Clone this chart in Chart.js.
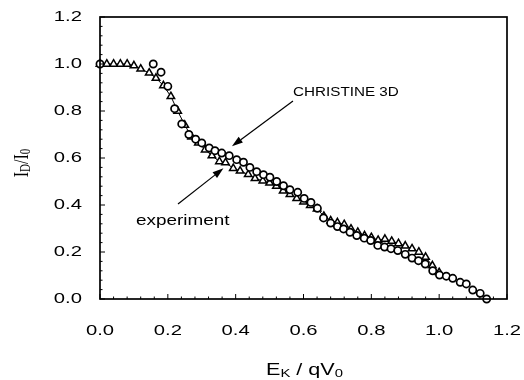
<!DOCTYPE html>
<html><head><meta charset="utf-8">
<script src="https://cdn.jsdelivr.net/npm/chart.js@4/dist/chart.umd.min.js"></script>
<style>html,body{margin:0;padding:0;background:#fff}#c{display:block}</style>
</head><body>
<canvas id="c" width="524" height="380"></canvas>
<script>
// CHRISTINE 3D simulation (circles)
const simX = [0.0,0.157,0.18,0.20,0.22,0.241,0.262,0.282,0.30,0.322,0.339,0.359,0.381,0.403,0.423,0.442,0.462,0.482,0.501,0.521,0.541,0.56,0.583,0.602,0.622,0.641,0.659,0.68,0.70,0.718,0.737,0.757,0.779,0.798,0.819,0.839,0.858,0.878,0.90,0.92,0.939,0.959,0.981,1.001,1.021,1.04,1.062,1.08,1.099,1.121,1.14];
const simY = [1.0,1.0,0.965,0.905,0.81,0.745,0.70,0.68,0.664,0.643,0.631,0.621,0.61,0.593,0.582,0.56,0.542,0.529,0.518,0.50,0.482,0.465,0.454,0.428,0.411,0.386,0.345,0.323,0.308,0.298,0.284,0.27,0.259,0.249,0.228,0.221,0.214,0.206,0.19,0.174,0.163,0.149,0.12,0.102,0.097,0.088,0.071,0.064,0.038,0.024,0.0];
// experiment (triangles)
const expX = [0.0,0.02,0.04,0.06,0.08,0.10,0.12,0.145,0.165,0.187,0.209,0.229,0.25,0.27,0.29,0.31,0.33,0.352,0.37,0.393,0.413,0.437,0.457,0.48,0.50,0.52,0.54,0.56,0.58,0.60,0.62,0.64,0.66,0.68,0.70,0.72,0.74,0.76,0.78,0.80,0.82,0.84,0.86,0.88,0.90,0.92,0.94,0.96,0.98,1.0];
const expY = [1.0,1.0,1.0,1.0,1.0,0.993,0.979,0.962,0.94,0.908,0.862,0.80,0.74,0.69,0.665,0.635,0.61,0.585,0.58,0.556,0.545,0.53,0.513,0.503,0.494,0.48,0.46,0.445,0.428,0.413,0.398,0.384,0.352,0.333,0.325,0.317,0.298,0.284,0.27,0.262,0.25,0.255,0.246,0.236,0.226,0.214,0.2,0.178,0.142,0.113];
const xTicks = [0.0,0.2,0.4,0.6,0.8,1.0,1.2];
const yTicks = [0.0,0.2,0.4,0.6,0.8,1.0,1.2];
const labelSim = "CHRISTINE 3D";
const labelExp = "experiment";

const toPts = (xs, ys) => xs.map((x, i) => ({x: x, y: ys[i]}));

const sansFont = "'Liberation Sans', Arial, sans-serif";
let STRETCH = 1.35;   // glyphs in the figure are horizontally wide
const origFill = CanvasRenderingContext2D.prototype.fillText;

const decor = {
  id: 'decor',
  beforeDraw(chart) {
    const ctx = chart.ctx;
    if (!ctx.__wrapped) {
      ctx.fillText = function (t, x, y) {
        this.save();
        this.translate(x, y);
        this.scale(STRETCH, 1);
        origFill.call(this, t, 0, 0);
        this.restore();
      };
      ctx.__wrapped = true;
    }
  },
  afterDraw(chart) {
    const ctx = chart.ctx;
    const xs = chart.scales.x, ys = chart.scales.y;
    const a = chart.chartArea;
    ctx.save();
    ctx.strokeStyle = '#000';
    // inward ticks
    ctx.lineWidth = 1;
    for (let i = 0; i <= 30; i++) {
      const v = i * 0.04;
      const major = i % 5 === 0;
      const len = major ? 5 : 2.5;
      const px = xs.getPixelForValue(v);
      ctx.beginPath(); ctx.moveTo(px, a.bottom); ctx.lineTo(px, a.bottom - len); ctx.stroke();
      const py = ys.getPixelForValue(v);
      ctx.beginPath(); ctx.moveTo(a.left, py); ctx.lineTo(a.left + len, py); ctx.stroke();
    }
    // frame
    ctx.lineWidth = 1.7;
    ctx.strokeRect(a.left, a.top, a.right - a.left, a.bottom - a.top);

    // arrows
    function arrow(x0, y0, x1, y1) {
      const p0x = xs.getPixelForValue(x0), p0y = ys.getPixelForValue(y0);
      const p1x = xs.getPixelForValue(x1), p1y = ys.getPixelForValue(y1);
      const ang = Math.atan2(p1y - p0y, p1x - p0x);
      const L = 11, W = 3.6;
      const bx = p1x - L * Math.cos(ang), by = p1y - L * Math.sin(ang);
      ctx.lineWidth = 1.2;
      ctx.beginPath(); ctx.moveTo(p0x, p0y); ctx.lineTo(bx, by); ctx.stroke();
      ctx.beginPath();
      ctx.moveTo(p1x, p1y);
      ctx.lineTo(bx + W * Math.sin(ang), by - W * Math.cos(ang));
      ctx.lineTo(bx - W * Math.sin(ang), by + W * Math.cos(ang));
      ctx.closePath(); ctx.fillStyle = '#000'; ctx.fill();
    }
    arrow(0.569, 0.843, 0.389, 0.650);
    arrow(0.230, 0.404, 0.364, 0.556);

    // annotation texts
    ctx.fillStyle = '#000';
    ctx.textAlign = 'left';
    ctx.textBaseline = 'alphabetic';
    ctx.font = '12px ' + sansFont;
    STRETCH = 1.27;
    ctx.fillText(labelSim, xs.getPixelForValue(0.569), ys.getPixelForValue(0.865));
    STRETCH = 1.35;
    ctx.font = '14px ' + sansFont;
    ctx.fillText(labelExp, xs.getPixelForValue(0.106), ys.getPixelForValue(0.315));

    function drawRuns(runs, cx, cy, sx) {
      let w = 0;
      runs.forEach(r => { ctx.font = r.f; w += ctx.measureText(r.t).width * sx; });
      let x = cx - w / 2;
      runs.forEach(r => {
        ctx.font = r.f;
        ctx.fillText(r.t, x, cy + (r.dy || 0));
        x += ctx.measureText(r.t).width * sx;
      });
    }
    // x axis title: E_K / qV_0
    ctx.textBaseline = 'alphabetic';
    drawRuns([
      {t: 'E', f: '16px ' + sansFont},
      {t: 'K', f: '11px ' + sansFont, dy: 2},
      {t: ' / qV', f: '16px ' + sansFont},
      {t: '0', f: '11px ' + sansFont, dy: 2}
    ], (a.left + a.right) / 2 + 1, 375, STRETCH);

    // y axis title: I_D/I_0 (serif, rotated; page-horizontal stretch)
    ctx.save();
    ctx.translate(21, 163);
    ctx.scale(1.3, 1);
    ctx.rotate(-Math.PI / 2);
    const serif = "'Liberation Serif', 'Times New Roman', serif";
    const keep = STRETCH; STRETCH = 1;
    drawRuns([
      {t: 'I', f: '16px ' + serif},
      {t: 'D', f: '11px ' + serif, dy: 2},
      {t: '/I', f: '16px ' + serif},
      {t: '0', f: '11px ' + serif, dy: 2}
    ], 0, 5, 1);
    STRETCH = keep;
    ctx.restore();
    ctx.restore();
  }
};

new Chart(document.getElementById('c'), {
  type: 'scatter',
  data: {
    datasets: [
      {
        label: labelSim,
        data: toPts(simX, simY),
        pointStyle: 'circle',
        pointRadius: 3.6,
        pointBackgroundColor: '#fff',
        pointBorderColor: '#000',
        pointBorderWidth: 1.7,
        showLine: false,
        clip: false
      },
      {
        label: labelExp,
        data: toPts(expX, expY),
        pointStyle: 'triangle',
        pointRadius: 4.3,
        pointBackgroundColor: '#fff',
        pointBorderColor: '#000',
        pointBorderWidth: 1.5,
        showLine: true,
        borderColor: '#000',
        borderWidth: 1,
        tension: 0,
        clip: false
      }
    ]
  },
  options: {
    responsive: false,
    animation: false,
    devicePixelRatio: 1,
    layout: {padding: {left: 0, right: 17, top: 17, bottom: 0}},
    plugins: {legend: {display: false}, tooltip: {enabled: false}},
    scales: {
      x: {
        type: 'linear', min: 0, max: 1.2,
        afterFit(s) { s.height = 81; s.paddingLeft = 0; s.paddingRight = 0; },
        afterBuildTicks(s) { s.ticks = xTicks.map(v => ({value: v})); },
        grid: {display: false, drawTicks: false},
        border: {display: false},
        ticks: {
          padding: 23, color: '#000',
          font: {family: sansFont, size: 15},
          callback: v => v.toFixed(1)
        }
      },
      y: {
        type: 'linear', min: 0, max: 1.2,
        afterFit(s) { s.width = 100; s.paddingTop = 0; s.paddingBottom = 0; },
        afterBuildTicks(s) { s.ticks = yTicks.map(v => ({value: v})); },
        grid: {display: false, drawTicks: false},
        border: {display: false},
        ticks: {
          padding: 18, color: '#000',
          font: {family: sansFont, size: 15},
          callback: v => v.toFixed(1)
        }
      }
    }
  },
  plugins: [decor]
});
</script>
</body></html>
